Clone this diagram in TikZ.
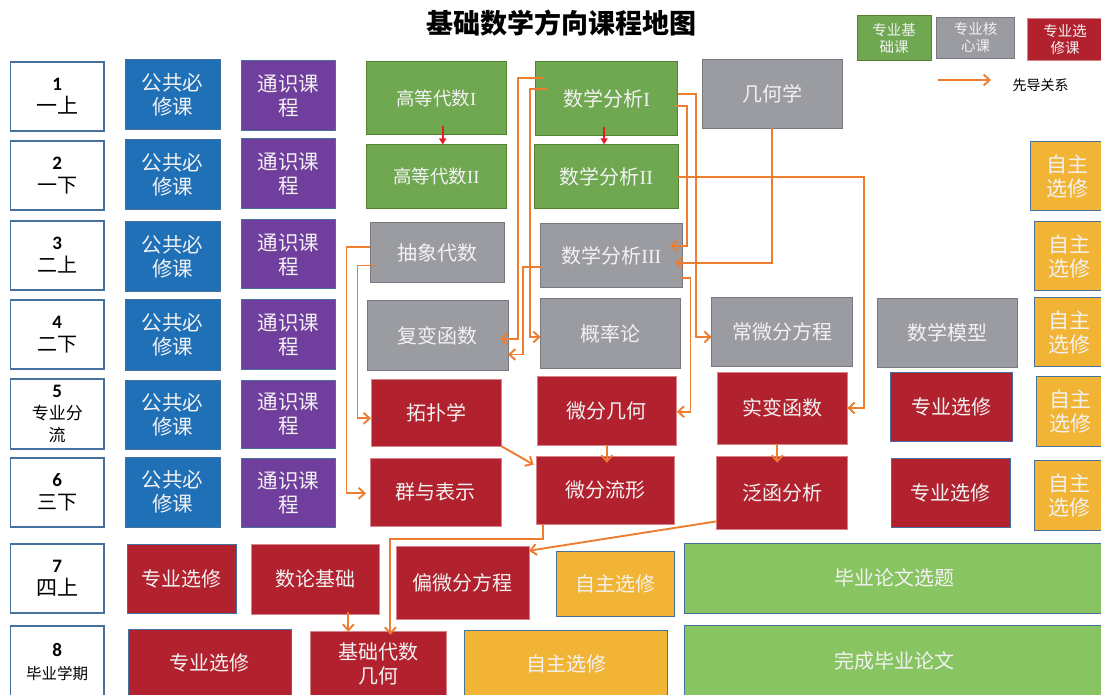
\documentclass[tikz,border=0pt]{standalone}
\usepackage{fontspec}
\setmainfont{Liberation Serif}
\newfontfamily\cjk{Noto Sans CJK SC}
\newfontfamily\cali{Carlito}
\usetikzlibrary{arrows.meta}
\definecolor{cblue}{RGB}{31,112,182}
\definecolor{cpurple}{RGB}{112,62,156}
\definecolor{cgreen}{RGB}{112,168,82}
\definecolor{cgreenb}{RGB}{84,130,53}
\definecolor{cgray}{RGB}{155,156,161}
\definecolor{cgrayb}{RGB}{120,121,126}
\definecolor{cred}{RGB}{178,34,46}
\definecolor{credb}{RGB}{214,130,136}
\definecolor{cyellow}{RGB}{242,180,52}
\definecolor{clgreen}{RGB}{137,196,98}
\definecolor{cedge}{RGB}{70,112,158}
\definecolor{corange}{RGB}{237,125,49}
\definecolor{carrred}{RGB}{232,28,36}
\definecolor{ctext}{RGB}{242,242,242}
\newcommand\rn[1]{{\rmfamily #1}}
\newcommand\bx[7]{\node[#1,minimum width={(#5)-(#3)},minimum height={(#6)-(#4)}] (#2) at ({((#3)+(#5))/2},{((#4)+(#6))/2}) {#7};}
\tikzset{
  base/.style={rectangle, inner sep=0pt, outer sep=0pt, align=center, text=ctext, font=\cjk\fontsize{20}{24}\selectfont, line width=1pt},
  sem/.style={base, draw=cedge, fill=white, text=black, line width=1.3pt, font=\cjk\fontsize{20}{23}\selectfont},
  pub/.style={base, fill=cblue, draw=cedge, font=\cjk\fontsize{20.5}{24}\selectfont},
  gen/.style={base, fill=cpurple, draw=cedge, font=\cjk\fontsize{20.5}{24}\selectfont},
  fnd/.style={base, fill=cgreen, draw=cgreenb},
  core/.style={base, fill=cgray, draw=cgrayb},
  elec/.style={base, fill=cred, draw=credb},
  elecb/.style={base, fill=cred, draw=cedge},
  free/.style={base, fill=cyellow, draw=cedge},
  thes/.style={base, fill=clgreen, draw=cedge},
  legbox/.style={base, font=\cjk\fontsize{14.5}{17}\selectfont},
  arr/.style={draw=corange, line width=1.9pt, -{Straight Barb[length=6pt,width=11pt]}},
  rarr/.style={draw=carrred, line width=1.8pt, -{Triangle[length=6pt,width=7pt]}},
}
\newcommand\num[1]{{\cali\bfseries\fontsize{19}{22}\selectfont #1}}
\begin{document}
\begin{tikzpicture}[x=1pt,y=-1pt]
\useasboundingbox (0,0) rectangle (1101,695);
\fill[white] (0,0) rectangle (1101,695);
\clip (0,0) rectangle (1101,695);
% title and legend
\node[font=\cjk\bfseries\fontsize{27}{30}\selectfont] (title) at (561,23) {基础数学方向课程地图};
\bx{fnd,legbox}{lg1}{857}{15.7}{931}{60.7}{专业基\\础课}
\bx{core,legbox}{lg2}{936.5}{17.3}{1014.5}{58.3}{专业核\\心课}
\bx{elec,legbox}{lg3}{1027}{18.3}{1103}{60.7}{专业选\\修课}
\coordinate (la1) at (938,80);
\coordinate (la2) at (991,80);
\draw[arr] (la1) -- (la2);
\node[font=\cjk\fontsize{14}{16}\selectfont] (lgt) at (1040.5,85) {先导关系};
% semesters
\bx{sem}{s1}{10.5}{62}{104}{131}{\num{1}\\{\fontsize{21}{23}\selectfont 一上}}
\bx{sem}{s2}{10.5}{141}{104}{210}{\num{2}\\一下}
\bx{sem}{s3}{10.5}{221}{104}{290}{\num{3}\\二上}
\bx{sem}{s4}{10.5}{300}{104}{369}{\num{4}\\二下}
\bx{sem,font=\cjk\fontsize{17}{22}\selectfont}{s5}{10.5}{379}{104}{449}{\num{5}\\专业分\\流}
\bx{sem}{s6}{10.5}{458}{104}{527}{\num{6}\\三下}
\bx{sem}{s7}{10.5}{544}{104}{613}{\num{7}\\{\fontsize{21}{23}\selectfont 四上}}
\bx{sem}{s8}{10.5}{626}{104}{698}{\num{8}\\{\fontsize{15.5}{20}\selectfont 毕业学期}}
% public and general
\bx{pub}{gg1}{125}{60}{220}{130}{公共必\\修课}
\bx{pub}{gg2}{125}{140}{220}{210}{公共必\\修课}
\bx{pub}{gg3}{125}{222}{220}{292}{公共必\\修课}
\bx{pub}{gg4}{125}{300}{220}{370}{公共必\\修课}
\bx{pub}{gg5}{125}{380}{220}{449}{公共必\\修课}
\bx{pub}{gg6}{125}{457}{220}{527}{公共必\\修课}
\bx{gen}{ts1}{241}{61}{335.5}{131}{通识课\\程}
\bx{gen}{ts2}{241}{139}{335.5}{209}{通识课\\程}
\bx{gen}{ts3}{241}{220}{335.5}{289}{通识课\\程}
\bx{gen}{ts4}{241}{300}{335.5}{369}{通识课\\程}
\bx{gen}{ts5}{241}{380}{335.5}{448}{通识课\\程}
\bx{gen}{ts6}{241}{458}{335.5}{527}{通识课\\程}
% foundation
\bx{fnd,font=\cjk\fontsize{18.5}{22}\selectfont}{gd1}{366.5}{62}{506}{135}{高等代数\rn{I}}
\bx{fnd,font=\cjk\fontsize{18.5}{22}\selectfont}{gd2}{366.5}{144.5}{506}{208.5}{高等代数\rn{II}}
\bx{fnd}{sa1}{535.5}{61.7}{677.7}{136}{数学分析\rn{I}}
\bx{fnd}{sa2}{534.3}{144.3}{678.3}{209}{数学分析\rn{II}}
% core
\bx{core}{jh}{702}{60}{842.3}{128.3}{几何学}
\bx{core}{cx}{370}{222.7}{504}{282.7}{抽象代数}
\bx{core}{sa3}{540}{224}{682.7}{288}{数学分析\rn{III}}
\bx{core}{fb}{367.7}{300.7}{508}{370}{复变函数}
\bx{core}{gl}{540.7}{299}{680.7}{368.7}{概率论}
\bx{core}{cw}{711.7}{297.3}{852.3}{366.7}{常微分方程}
\bx{core}{sm}{877.3}{298.3}{1017.7}{367.7}{数学模型}
% electives
\bx{elec}{tp}{371}{379}{501}{446}{拓扑学}
\bx{elec}{wj}{537}{376.7}{676.7}{445}{微分几何}
\bx{elec}{sb}{717.3}{372.3}{847.3}{444.3}{实变函数}
\bx{elecb}{zx5}{890.7}{372.3}{1012.7}{441.7}{专业选修}
\bx{elec}{qb}{370}{458}{501.6}{526}{群与表示}
\bx{elec}{wl}{536.7}{456.7}{674.7}{524}{微分流形}
\bx{elec}{fh}{716.9}{456.7}{847.6}{529.3}{泛函分析}
\bx{elecb}{zx6}{891.5}{458.3}{1010.3}{527.7}{专业选修}
\bx{elecb}{zx7}{127}{544}{236.8}{613.3}{专业选修}
\bx{elec}{sl}{251.8}{544}{379.9}{614}{数论基础}
\bx{elec}{pw}{396.4}{546.7}{529}{619.3}{偏微分方程}
\bx{elecb}{zx8}{128}{629.3}{291.8}{697}{专业选修}
\bx{elec}{jc}{310.4}{631.7}{446.5}{697}{基础代数\\几何}
% free electives
\bx{free,font=\cjk\fontsize{21}{24}\selectfont}{zz2}{1030}{141.7}{1104}{210.7}{自主\\选修}
\bx{free,font=\cjk\fontsize{21}{24}\selectfont}{zz3}{1034.3}{221.7}{1104}{290.7}{自主\\选修}
\bx{free,font=\cjk\fontsize{21}{24}\selectfont}{zz4}{1034}{297.3}{1104}{366.7}{自主\\选修}
\bx{free,font=\cjk\fontsize{21}{24}\selectfont}{zz5}{1036}{376.7}{1104}{446}{自主\\选修}
\bx{free,font=\cjk\fontsize{21}{24}\selectfont}{zz6}{1034}{460.7}{1104}{530}{自主\\选修}
\bx{free}{zz7}{556.3}{551}{674.7}{616}{自主选修}
\bx{free}{zz8}{464.7}{630}{667.7}{697}{自主选修}
% thesis
\bx{thes}{by1}{684.6}{543.3}{1104}{613.3}{毕业论文选题}
\bx{thes}{by2}{684.6}{625}{1104}{697}{完成毕业论文}
% red arrows
\coordinate (q1) at ([xshift=6.5pt]gd1.south);
\draw[rarr, shorten <=-9pt] (q1) -- (q1 |- gd2.north);
\coordinate (r1) at ([xshift=-2.5pt]sa1.south);
\draw[rarr, shorten <=-9pt] (r1) -- (r1 |- sa2.north);
% orange prerequisite arrows
\draw[arr, shorten <=-7pt, shorten >=-8pt] (sa1.west |- 0,78) -| (518,339) -- (fb.east |- 0,339);
\draw[arr, shorten <=-11pt] (sa1.west |- 0,89) -| (530,337) -- (gl.west |- 0,337);
\draw[arr] (sa1.east |- 0,94) -| (696,337) -- (cw.west |- 0,337);
\draw[arr, shorten <=-3pt, shorten >=-12.7pt] (sa1.east |- 0,106) -| (687,246) -- (sa3.east |- 0,246);
\draw[arr, shorten >=-7.7pt] (jh.south) |- (sa3.east |- 0,263);
\draw[arr] (sa2.east |- 0,177) -| (864,408) -- (sb.east |- 0,408);
\draw[arr, shorten <=-2pt] (sa3.east |- 0,278.3) -| (690.5,411.7) -- (wj.east |- 0,411.7);
\draw[arr, shorten <=-1pt] (sa3.west |- 0,266.7) -| (522.7,354.5) -- (fb.east |- 0,354.5);
\draw[arr, shorten >=4pt] (cx.west |- 0,247.3) -| (346.5,493.3) -- (qb.west |- 0,493.3);
\draw[arr, shorten <=-5.5pt] (cx.west |- 0,265.5) -| (357.5,418.3) -- (tp.west |- 0,418.3);
\draw[arr] (tp.south east) -- ([xshift=-3pt,yshift=-8pt]wl.north west);
\draw[arr, shorten >=-6pt] (wj.south) -- (wj.south |- wl.north);
\coordinate (m1) at ([xshift=-5pt]sb.south);
\draw[arr, shorten >=-6pt] (m1) -- (m1 |- fh.north);
\coordinate (n1) at ([xshift=6.3pt]wl.south west);
\draw[arr, shorten >=-3pt] (n1) |- (390.4,539) -- (390.4,0 |- jc.north);
\draw[arr] ([yshift=8pt]fh.south west) -- ([yshift=-4pt]pw.north east);
\coordinate (p1) at ([xshift=32.5pt]sl.south);
\draw[arr, shorten <=-2.3pt] (p1) -- (p1 |- jc.north);
\end{tikzpicture}
\end{document}
